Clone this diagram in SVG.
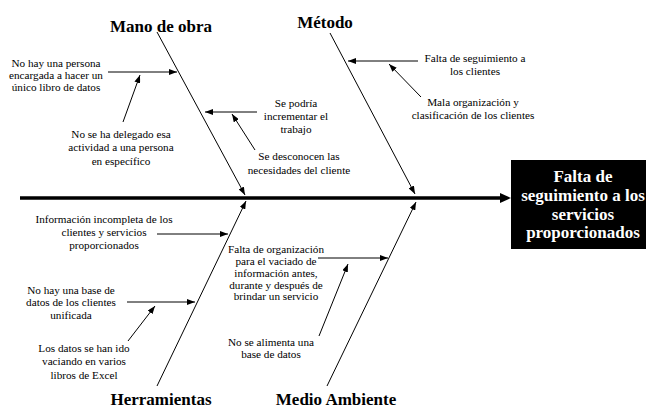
<svg xmlns="http://www.w3.org/2000/svg" width="646" height="408" viewBox="0 0 646 408" font-family="Liberation Serif, DejaVu Serif, serif">
<style>
.t{font-size:11.2px;fill:#000;text-anchor:middle}
.h{font-size:17px;font-weight:bold;fill:#000;text-anchor:middle}
.b{font-size:17px;font-weight:bold;fill:#fff;text-anchor:middle}
.l{stroke:#000;stroke-width:1;fill:none;marker-end:url(#a)}
</style>
<defs>
<marker id="a" markerUnits="userSpaceOnUse" markerWidth="8" markerHeight="6" viewBox="0 0 8 6" refX="8" refY="3" orient="auto"><path d="M0,0 L8,3 L0,6 z" fill="#000"/></marker>
</defs>
<rect width="646" height="408" fill="#fff"/>
<g id="connectors">
<line x1="20" y1="198" x2="501" y2="198" stroke="#000" stroke-width="3.5"/>
<path d="M500,193 L511,198 L500,203 z" fill="#000"/>
<line class="l" x1="157" y1="32" x2="245" y2="195"/>
<line class="l" x1="330" y1="33" x2="415" y2="194"/>
<line class="l" x1="157" y1="386" x2="246" y2="201"/>
<line class="l" x1="327" y1="386" x2="416" y2="202"/>
<line class="l" x1="108" y1="72" x2="177" y2="72"/>
<line class="l" x1="123" y1="122" x2="140" y2="75"/>
<line class="l" x1="257" y1="112" x2="205" y2="112"/>
<line class="l" x1="255" y1="150" x2="232" y2="114"/>
<line class="l" x1="418" y1="61" x2="348" y2="61"/>
<line class="l" x1="421" y1="97" x2="389" y2="64"/>
<line class="l" x1="157" y1="234" x2="228" y2="234"/>
<line class="l" x1="127" y1="302" x2="195" y2="302"/>
<line class="l" x1="128" y1="341" x2="155" y2="306"/>
<line class="l" x1="318" y1="258" x2="388" y2="258"/>
<line class="l" x1="319" y1="336" x2="348" y2="264"/>
</g>
<g id="effect">
<rect x="511" y="160" width="135" height="89" fill="#000"/>
<text class="b" x="583" y="182">Falta de</text>
<text class="b" x="583" y="201">seguimiento a los</text>
<text class="b" x="583" y="220">servicios</text>
<text class="b" x="583" y="238">proporcionados</text>
</g>
<g id="mano-de-obra"><text class="h" x="161" y="32">Mano de obra</text></g>
<g id="metodo"><text class="h" x="325" y="28">Método</text></g>
<g id="herramientas"><text class="h" x="161" y="405">Herramientas</text></g>
<g id="medio-ambiente"><text class="h" x="336" y="405">Medio Ambiente</text></g>
<g id="c1"><text class="t" x="56"><tspan x="56" y="67">No hay una persona</tspan><tspan x="56" y="79">encargada a hacer un</tspan><tspan x="56" y="91">único libro de datos</tspan></text></g>
<g id="c2"><text class="t" x="121"><tspan x="121" y="138">No se ha delegado esa</tspan><tspan x="121" y="151">actividad a una persona</tspan><tspan x="121" y="165">en específico</tspan></text></g>
<g id="c3"><text class="t" x="296"><tspan x="296" y="107">Se podría</tspan><tspan x="296" y="120">incrementar el</tspan><tspan x="296" y="133">trabajo</tspan></text></g>
<g id="c4"><text class="t" x="299"><tspan x="299" y="160">Se desconocen las</tspan><tspan x="299" y="174">necesidades del cliente</tspan></text></g>
<g id="c5"><text class="t" x="475"><tspan x="475" y="62">Falta de seguimiento a</tspan><tspan x="475" y="75">los clientes</tspan></text></g>
<g id="c6"><text class="t" x="473"><tspan x="473" y="106">Mala organización y</tspan><tspan x="473" y="119">clasificación de los clientes</tspan></text></g>
<g id="c7"><text class="t" x="104"><tspan x="104" y="223">Información incompleta de los</tspan><tspan x="104" y="236">clientes y servicios</tspan><tspan x="104" y="249">proporcionados</tspan></text></g>
<g id="c8"><text class="t" x="71"><tspan x="71" y="294">No hay una base de</tspan><tspan x="71" y="306">datos de los clientes</tspan><tspan x="71" y="319">unificada</tspan></text></g>
<g id="c9"><text class="t" x="84"><tspan x="84" y="352">Los datos se han ido</tspan><tspan x="84" y="365">vaciando en varios</tspan><tspan x="84" y="379">libros de Excel</tspan></text></g>
<g id="c10"><text class="t" x="276"><tspan x="276" y="253">Falta de organización</tspan><tspan x="276" y="265">para el vaciado de</tspan><tspan x="276" y="277">información antes,</tspan><tspan x="276" y="289">durante y después de</tspan><tspan x="276" y="300">brindar un servicio</tspan></text></g>
<g id="c11"><text class="t" x="271"><tspan x="271" y="346">No se alimenta una</tspan><tspan x="271" y="358">base de datos</tspan></text></g>
</svg>
